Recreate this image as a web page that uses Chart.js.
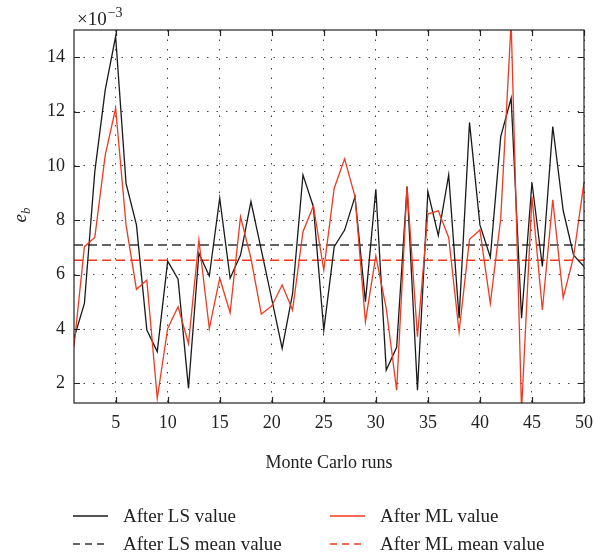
<!DOCTYPE html>
<html>
<head>
<meta charset="utf-8">
<script src="https://cdn.jsdelivr.net/npm/chart.js@4/dist/chart.umd.min.js"></script>
<style>
    body { margin: 0; background: #fff; }
    #wrap { position: relative; width: 594px; height: 557px; }
    #box { position: absolute; left: 0; top: 0; width: 594px; height: 490px; }
    #legend { position: absolute; left: 0; top: 0; width: 594px; height: 557px; pointer-events: none;
              font-family: "Liberation Serif", serif; font-size: 19px; color: #222; }
    .item { position: absolute; display: flex; align-items: center; height: 22px; white-space: nowrap; }
    .item svg { margin-right: 15px; }
</style>
</head>
<body>
<div id="wrap">
    <div id="box"><canvas id="myChart"></canvas></div>
    <div id="legend"></div>
</div>
<script>
const runs = Array.from({ length: 50 }, (_, i) => i + 1);

const lsValue = [3.66, 4.94, 9.8, 12.8, 14.76, 9.36, 7.83, 3.96, 3.17, 6.5,
                 5.83, 1.82, 6.79, 5.95, 8.81, 5.87, 6.72, 8.69, 6.9, 5.1,
                 3.29, 5.3, 9.67, 8.5, 3.96, 7.03, 7.64, 8.87, 5.01, 9.14,
                 2.49, 3.33, 9.24, 1.75, 9.06, 7.44, 9.67, 4.4, 11.6, 7.83,
                 6.64, 11.08, 12.49, 4.4, 9.39, 6.3, 11.45, 8.36, 6.72, 6.3];

const mlValue = [3.35, 7.03, 7.37, 10.4, 12.12, 7.83, 5.46, 5.8, 1.45, 4.02,
                 4.82, 3.47, 7.28, 4.02, 5.87, 4.6, 8.13, 6.6, 4.55, 4.85,
                 5.62, 4.7, 7.58, 8.53, 6.17, 9.18, 10.26, 8.87, 4.27, 6.69,
                 4.76, 1.75, 9.24, 3.72, 8.23, 8.35, 7.37, 3.9, 7.3, 7.64,
                 4.94, 8.07, 15.3, 1.0, 8.87, 4.7, 8.75, 5.15, 6.66, 9.39];

const lsMean = 7.09;
const mlMean = 6.53;

const xTicks = [5, 10, 15, 20, 25, 30, 35, 40, 45, 50];
const yTicks = [2, 4, 6, 8, 10, 12, 14];

const black = '#1a1a1a';
const red = '#f0391f';
const serif = '"Liberation Serif", "Times New Roman", serif';

const toPoints = (vals) => runs.map((r, i) => ({ x: r, y: vals[i] }));
const flat = (v) => runs.map(r => ({ x: r, y: v }));

// frame, inward tick marks, y title with subscript and the exponent label
const extras = {
    id: 'extras',
    afterDraw(chart) {
        const { ctx, chartArea: a, scales: { x, y } } = chart;
        ctx.save();
        ctx.strokeStyle = '#222';
        ctx.lineWidth = 1.2;
        ctx.strokeRect(a.left, a.top, a.right - a.left, a.bottom - a.top);
        ctx.beginPath();
        xTicks.forEach(v => {
            const px = Math.round(x.getPixelForValue(v)) + 0.5;
            ctx.moveTo(px, a.bottom); ctx.lineTo(px, a.bottom - 6);
            ctx.moveTo(px, a.top); ctx.lineTo(px, a.top + 6);
        });
        yTicks.forEach(v => {
            const py = Math.round(y.getPixelForValue(v)) + 0.5;
            ctx.moveTo(a.left, py); ctx.lineTo(a.left + 6, py);
            ctx.moveTo(a.right, py); ctx.lineTo(a.right - 6, py);
        });
        ctx.stroke();

        ctx.fillStyle = '#222';
        ctx.font = 'italic 19px ' + serif;
        ctx.translate(26, (a.top + a.bottom) / 2 + 6);
        ctx.rotate(-Math.PI / 2);
        ctx.textAlign = 'left';
        ctx.textBaseline = 'alphabetic';
        ctx.fillText('e', 0, 0);
        const w = ctx.measureText('e').width;
        ctx.font = 'italic 13px ' + serif;
        ctx.fillText('b', w, 4);
        ctx.restore();

        ctx.save();
        ctx.fillStyle = '#222';
        ctx.font = '19px ' + serif;
        ctx.textBaseline = 'alphabetic';
        ctx.fillText('×10', 77, 25);
        const w2 = ctx.measureText('×10').width;
        ctx.font = '14px ' + serif;
        ctx.fillText('−3', 77 + w2 + 1, 17);
        ctx.restore();
    }
};

const myChart = new Chart(document.getElementById('myChart'), {
    type: 'line',
    data: {
        datasets: [{
                label: 'After ML value',
                data: toPoints(mlValue),
                borderColor: red,
                borderWidth: 1.3,
            },
            {
                label: 'After LS value',
                data: toPoints(lsValue),
                borderColor: black,
                borderWidth: 1.3,
            },
            {
                label: 'After LS mean value',
                data: flat(lsMean),
                borderColor: '#333',
                borderWidth: 1.5,
                borderDash: [9, 5],
            },
            {
                label: 'After ML mean value',
                data: flat(mlMean),
                borderColor: red,
                borderWidth: 1.5,
                borderDash: [9, 5],
            }
        ]
    },
    options: {
        responsive: true,
        maintainAspectRatio: false,
        animation: false,
        elements: {
            point: { radius: 0 },
            line: { tension: 0 }
        },
        layout: {
            padding: { top: 30, right: 0, left: 0, bottom: 0 }
        },
        plugins: {
            legend: { display: false },
            tooltip: { enabled: false }
        },
        scales: {
            x: {
                type: 'linear',
                min: 1,
                max: 50,
                afterBuildTicks: (s) => { s.ticks = xTicks.map(v => ({ value: v })); },
                afterFit: (s) => { s.height = 87; s.paddingRight = 10; },
                grid: { color: '#444', lineWidth: 1, drawTicks: false },
                border: { display: false, dash: [1.5, 8] },
                ticks: { color: '#222', padding: 9, font: { family: serif, size: 18 } },
                title: {
                    display: true,
                    text: 'Monte Carlo runs',
                    color: '#222',
                    font: { family: serif, size: 18 },
                    padding: { top: 0, bottom: 16 }
                }
            },
            y: {
                min: 1.28,
                max: 15,
                afterBuildTicks: (s) => { s.ticks = yTicks.map(v => ({ value: v })); },
                afterFit: (s) => { s.width = 74; },
                grid: { color: '#444', lineWidth: 1, drawTicks: false },
                border: { display: false, dash: [1.5, 8] },
                ticks: { color: '#222', padding: 9, font: { family: serif, size: 18 } }
            }
        }
    },
    plugins: [extras]
});

// legend below the chart, in two columns
const legendOrder = ['After LS value', 'After ML value', 'After LS mean value', 'After ML mean value'];
const cols = [73, 330];
const rows = [516, 544];
const legendBox = document.getElementById('legend');
legendOrder.forEach((name, i) => {
    const ds = myChart.data.datasets.find(d => d.label === name);
    const item = document.createElement('div');
    item.className = 'item';
    item.style.left = cols[i % 2] + 'px';
    item.style.top = (rows[Math.floor(i / 2)] - 11) + 'px';
    const dash = ds.borderDash ? 'stroke-dasharray="7,5"' : '';
    item.innerHTML = '<svg width="35" height="4"><line x1="0" y1="2" x2="35" y2="2" stroke="' +
        ds.borderColor + '" stroke-width="1.3" ' + dash + '/></svg><span>' + name + '</span>';
    legendBox.appendChild(item);
});
</script>
</body>
</html>
